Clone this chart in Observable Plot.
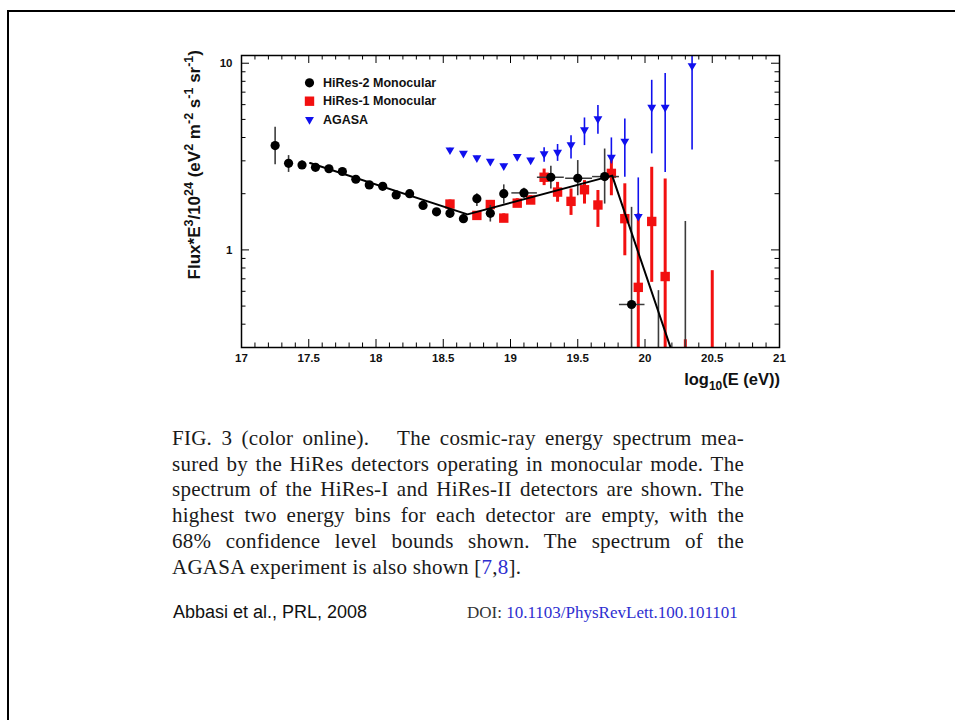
<!DOCTYPE html>
<html>
<head>
<meta charset="utf-8">
<script src="https://cdn.jsdelivr.net/npm/d3@7"></script>
<script src="https://cdn.jsdelivr.net/npm/@observablehq/plot@0.6"></script>
<style>
html, body { margin: 0; padding: 0; background: #fff; }
#page { position: relative; width: 955px; height: 720px; overflow: hidden; background: #fff; }
#border { position: absolute; left: 7px; top: 10px; width: 1200px; height: 1200px; border-left: 2.5px solid #000; border-top: 2.5px solid #000; }
#chart { position: absolute; left: 0; top: 0; }
#caption { position: absolute; left: 172px; top: 426px; width: 572px; font-family: "Liberation Serif", "Times New Roman", serif; font-size: 21px; letter-spacing: 0.25px; line-height: 25.7px; color: #1a1a1a; }
#caption .j { text-align: justify; text-align-last: justify; }
.ref { color: #2e2ed0; }
#cite { position: absolute; left: 173px; top: 602px; font-family: "Liberation Sans", Arial, sans-serif; font-size: 18px; line-height: 20px; color: #111; }
#doi { position: absolute; left: 467px; top: 603px; font-family: "Liberation Serif", "Times New Roman", serif; font-size: 17px; line-height: 20px; }
</style>
</head>
<body>
<div id="page">
  <div id="border"></div>
  <div id="chart"></div>
  <div id="caption">
    <div class="j">FIG. 3 (color online).&nbsp;&nbsp; The cosmic-ray energy spectrum mea-</div>
    <div class="j">sured by the HiRes detectors operating in monocular mode. The</div>
    <div class="j">spectrum of the HiRes-I and HiRes-II detectors are shown. The</div>
    <div class="j">highest two energy bins for each detector are empty, with the</div>
    <div class="j">68% confidence level bounds shown. The spectrum of the</div>
    <div>AGASA experiment is also shown [<span class="ref">7</span>,<span class="ref">8</span>].</div>
  </div>
  <div id="cite">Abbasi et al., PRL, 2008</div>
  <div id="doi"><span style="color:#333">DOI:</span> <span class="ref">10.1103/PhysRevLett.100.101101</span></div>
</div>
<script>
// ---------------- data ----------------
// HiRes-2 Monocular (black circles)
const hires2E    = [17.25, 17.35, 17.45, 17.55, 17.65, 17.75, 17.85, 17.95, 18.05, 18.15, 18.25, 18.35, 18.45, 18.55, 18.65, 18.75, 18.85, 18.95, 19.1, 19.3, 19.5, 19.7, 19.9];
const hires2Flux = [3.62, 2.91, 2.85, 2.77, 2.72, 2.63, 2.39, 2.23, 2.19, 1.97, 2.00, 1.73, 1.60, 1.57, 1.47, 1.88, 1.57, 2.00, 2.02, 2.45, 2.42, 2.47, 0.51];
const hires2Lo   = [2.86, 2.60, 2.70, 2.69, 2.64, 2.55, 2.31, 2.16, 2.12, 1.90, 1.93, 1.67, 1.54, 1.48, 1.39, 1.71, 1.41, 1.76, 1.89, 2.12, 1.95, 1.76, 0.10];
const hires2Hi   = [4.54, 3.20, 3.00, 2.85, 2.80, 2.71, 2.47, 2.30, 2.26, 2.04, 2.07, 1.79, 1.66, 1.66, 1.55, 2.00, 1.73, 2.23, 2.14, 2.81, 3.01, 3.47, 1.69];
const hires2ELo  = [null, null, null, null, null, null, null, null, null, null, null, null, null, null, null, null, null, null, 19.01, 19.2, 19.41, 19.61, 19.81];
const hires2EHi  = [null, null, null, null, null, null, null, null, null, null, null, null, null, null, null, null, null, null, 19.2, 19.4, 19.61, 19.81, 20.0];
const hires2LimitE  = [20.1, 20.3];
const hires2LimitHi = [0.605, 1.42];

// HiRes-1 Monocular (red squares)
const hires1E    = [18.55, 18.75, 18.85, 18.95, 19.05, 19.15, 19.25, 19.35, 19.45, 19.55, 19.65, 19.75, 19.85, 19.95, 20.05, 20.15];
const hires1Flux = [1.76, 1.53, 1.75, 1.48, 1.78, 1.85, 2.45, 2.04, 1.82, 2.10, 1.74, 2.57, 1.47, 0.63, 1.42, 0.72];
const hires1Lo   = [1.68, 1.47, 1.67, 1.41, 1.70, 1.76, 2.21, 1.80, 1.53, 1.76, 1.32, 1.95, 0.93, 0.10, 0.67, 0.10];
const hires1Hi   = [1.85, 1.59, 1.84, 1.56, 1.88, 1.95, 2.71, 2.30, 2.12, 2.35, 2.08, 3.13, 2.26, 1.56, 2.77, 2.40];
const hires1LimitE  = [20.3, 20.5];
const hires1LimitHi = [0.33, 0.774];

// AGASA (blue down-triangles)
const agasaE    = [18.55, 18.65, 18.75, 18.85, 18.95, 19.05, 19.15, 19.25, 19.35, 19.45, 19.55, 19.65, 19.75, 19.85, 19.95, 20.05, 20.15, 20.35];
const agasaFlux = [3.43, 3.29, 3.11, 2.98, 2.82, 3.16, 3.03, 3.27, 3.33, 3.65, 4.40, 5.03, 3.13, 3.82, 1.51, 5.81, 5.81, 9.7];
const agasaLo   = [3.36, 3.23, 3.05, 2.92, 2.76, 3.09, 2.96, 2.95, 2.98, 3.07, 3.62, 4.17, 2.89, 2.45, 1.45, 3.27, 2.60, 3.43];
const agasaHi   = [3.50, 3.36, 3.17, 3.04, 2.88, 3.23, 3.10, 3.52, 3.67, 4.09, 5.09, 5.93, 3.98, 5.03, 2.43, 8.10, 8.80, 20.0];

// broken power-law fit (black line vertices)
const fitE    = [17.51, 18.68, 19.756, 20.19];
const fitFlux = [2.92, 1.55, 2.50, 0.30];

// axes
const xMajorTicks = [17, 17.5, 18, 18.5, 19, 19.5, 20, 20.5, 21];
const xTickLabels = ["17", "17.5", "18", "18.5", "19", "19.5", "20", "20.5", "21"];
const yMajorTicks = [1, 10];
const yTickLabels = ["1", "10"];
const yMinorTicks = [0.3, 0.4, 0.5, 0.6, 0.7, 0.8, 0.9, 2, 3, 4, 5, 6, 7, 8, 9];
const legendLabels = ["HiRes-2 Monocular", "HiRes-1 Monocular", "AGASA"];
const yTitleParts = [["Flux*E", 0], ["3", 1], ["/10", 0], ["24", 1], [" (eV", 0], ["2", 1], [" m", 0], ["-2", 1], [" s", 0], ["-1", 1], [" sr", 0], ["-1", 1], [")", 0]];
const xTitleParts = [["log", 0], ["10", -1], ["(E (eV))", 0]];

// ---------------- drawing ----------------
const W = 955, H = 400, mT = 55, mB = 53, mL = 241, mR = 176;
const innerH = H - mT - mB, innerW = W - mL - mR;
const xMinorTicks = d3.range(171, 211).map(v => v / 10).filter(v => !xMajorTicks.some(m => Math.abs(m - v) < 1e-9));
const idx = a => a.map((_, i) => i);
const RED = "#f21010", BLUE = "#1010ee", GRAY = "#3c3c3c";

const marks = [
  // inward ticks on all four sides
  Plot.ruleX(xMinorTicks, {insetTop: innerH - 4.5, stroke: "#000"}),
  Plot.ruleX(xMinorTicks, {insetBottom: innerH - 4.5, stroke: "#000"}),
  Plot.ruleX(xMajorTicks, {insetTop: innerH - 8, stroke: "#000"}),
  Plot.ruleX(xMajorTicks, {insetBottom: innerH - 8, stroke: "#000"}),
  Plot.ruleY(yMinorTicks, {insetRight: innerW - 4.5, stroke: "#000"}),
  Plot.ruleY(yMinorTicks, {insetLeft: innerW - 4.5, stroke: "#000"}),
  Plot.ruleY(yMajorTicks, {insetRight: innerW - 8, stroke: "#000"}),
  Plot.ruleY(yMajorTicks, {insetLeft: innerW - 8, stroke: "#000"}),
  Plot.axisX(xMajorTicks, {tickSize: 0, tickPadding: 6, fontSize: 11.5, fontWeight: "bold", label: null,
    tickFormat: d => xTickLabels[xMajorTicks.indexOf(d)]}),
  Plot.axisY(yMajorTicks, {tickSize: 0, tickPadding: 9, fontSize: 11.5, fontWeight: "bold", label: null,
    tickFormat: d => yTickLabels[yMajorTicks.indexOf(d)]}),

  // HiRes-1
  Plot.ruleX(idx(hires1E), {x: i => hires1E[i], y1: i => hires1Lo[i], y2: i => hires1Hi[i], stroke: RED, strokeWidth: 3, clip: true}),
  Plot.ruleX(idx(hires1LimitE), {x: i => hires1LimitE[i], y1: 0.1, y2: i => hires1LimitHi[i], stroke: RED, strokeWidth: 3, clip: true}),
  Plot.dot(idx(hires1E), {x: i => hires1E[i], y: i => hires1Flux[i], symbol: "square", r: 5.3, fill: RED, stroke: "none", clip: true}),

  // HiRes-2
  Plot.ruleY(idx(hires2E).filter(i => hires2ELo[i] != null), {y: i => hires2Flux[i], x1: i => hires2ELo[i], x2: i => hires2EHi[i], stroke: GRAY, strokeWidth: 1.5}),
  Plot.ruleX(idx(hires2E), {x: i => hires2E[i], y1: i => hires2Lo[i], y2: i => hires2Hi[i], stroke: GRAY, strokeWidth: 1.6, clip: true}),
  Plot.ruleX(idx(hires2LimitE), {x: i => hires2LimitE[i], y1: 0.1, y2: i => hires2LimitHi[i], stroke: GRAY, strokeWidth: 1.6, clip: true}),
  Plot.dot(idx(hires2E), {x: i => hires2E[i], y: i => hires2Flux[i], r: 4.6, fill: "#000", stroke: "none"}),

  // AGASA
  Plot.ruleX(idx(agasaE), {x: i => agasaE[i], y1: i => agasaLo[i], y2: i => agasaHi[i], stroke: BLUE, strokeWidth: 1.6, clip: true}),
  Plot.dot(idx(agasaE), {x: i => agasaE[i], y: i => agasaFlux[i], symbol: "triangle", rotate: 180, r: 3.3, fill: BLUE, stroke: "none", clip: true}),

  // fit
  Plot.line(idx(fitE), {x: i => fitE[i], y: i => fitFlux[i], stroke: "#000", strokeWidth: 2, clip: true}),

  Plot.frame({stroke: "#000", strokeWidth: 1.5})
];

// legend
const legendSymbol = ["circle", "square", "triangle"];
const legendFill = ["#000", RED, BLUE];
const legendR = [4.6, 5.3, 3.3];
const legendRotate = [0, 0, 180];
legendLabels.forEach((lab, i) => {
  marks.push(Plot.dot([lab], {frameAnchor: "top-left", dx: 68, dy: 27.3 + i * 18.4, symbol: legendSymbol[i], r: legendR[i], rotate: legendRotate[i], fill: legendFill[i], stroke: "none"}));
  marks.push(Plot.text([lab], {frameAnchor: "top-left", dx: 81.5, dy: 27.3 + i * 18.4, text: d => d, textAnchor: "start", lineAnchor: "middle", fontSize: 12.5, fontWeight: "bold", fill: "#111"}));
});

const plot = Plot.plot({
  width: W, height: H,
  marginTop: mT, marginBottom: mB, marginLeft: mL, marginRight: mR,
  style: {fontFamily: "'Liberation Sans', Arial, Helvetica, sans-serif", fontWeight: "bold", color: "#111", background: "transparent"},
  x: {domain: [17, 21], axis: null},
  y: {type: "log", domain: [0.3, 11], axis: null},
  marks
});

const svg = d3.select(plot);
function rich(textSel, parts, shift, small) {
  let cur = 0;
  parts.forEach(([s, k]) => {
    const target = k === 1 ? -shift : (k === -1 ? shift * 0.7 : 0);
    const t = textSel.append("tspan").text(s).attr("dy", target - cur);
    if (k !== 0) t.attr("font-size", small);
    cur = target;
  });
}
const yTitle = svg.append("text")
  .attr("transform", "translate(200,50) rotate(-90)")
  .attr("text-anchor", "end").attr("font-size", 17).attr("font-weight", "bold").attr("fill", "#111");
rich(yTitle, yTitleParts, 7.5, 12.5);
const xTitle = svg.append("text")
  .attr("x", 780).attr("y", 385)
  .attr("text-anchor", "end").attr("font-size", 16.5).attr("font-weight", "bold").attr("fill", "#111");
rich(xTitle, xTitleParts, 7, 12);

document.getElementById("chart").appendChild(plot);
</script>
</body>
</html>
